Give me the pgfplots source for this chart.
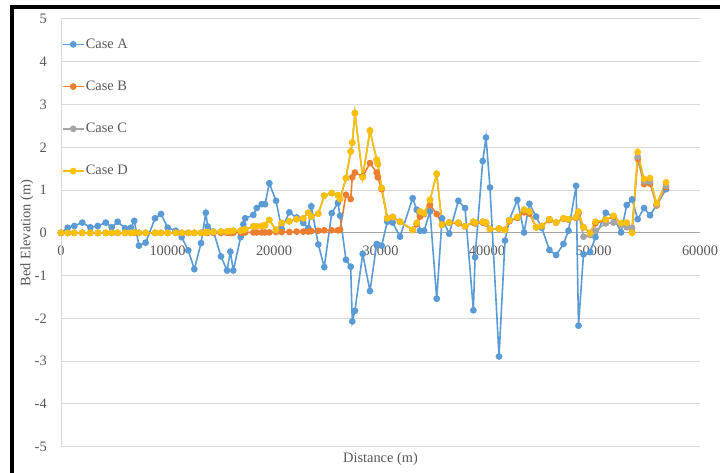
\documentclass[border=0pt]{standalone}
\usepackage{fontspec}
\setmainfont{Liberation Serif}
\usepackage{pgfplots}
\pgfplotsset{compat=1.18}
\usepackage{pgfplotstable}
\definecolor{cA}{HTML}{5B9BD5}
\definecolor{cB}{HTML}{ED7D31}
\definecolor{cC}{HTML}{A5A5A5}
\definecolor{cD}{HTML}{FFC000}
\definecolor{tickc}{HTML}{595959}
\definecolor{gridc}{HTML}{D9D9D9}
\definecolor{zeroc}{HTML}{A6A6A6}

\pgfplotstableread{
d A B C D
0 0.00 0 0 0
630 0.12 0 0 0
1250 0.16 0 0 0
2000 0.24 0 0 0
2750 0.13 0 0 0
3450 0.16 0 0 0
4200 0.24 0 0 0
4760 0.13 0 0 0
5320 0.26 0 0 0
6010 0.11 0 0 0
6570 0.12 0 0 0
6880 0.28 0 0.01 0.01
7320 -0.30 0 0 0
7950 -0.23 0 0 0
8830 0.34 0 0 0
9390 0.44 0 0 0
10020 0.12 0 0 0
10770 0.05 0 0 0
11330 -0.10 0 0 0
11950 -0.41 0 0 0
12520 -0.85 0 0 0
13150 -0.24 0 0 0
13600 0.47 0 0.01 0.01
13770 0.15 0 0.02 0.02
14320 0.03 0 0.02 0.02
15020 -0.55 0 0.03 0.03
15590 -0.88 0 0.03 0.03
15900 -0.44 0 0.04 0.04
16180 -0.88 0 0.05 0.05
16870 -0.10 0.01 0.05 0.05
17120 0.20 0.01 0.07 0.07
17300 0.34 0.01 0.08 0.08
18060 0.42 0.01 0.15 0.15
18380 0.58 0.01 0.15 0.15
18850 0.67 0.01 0.16 0.16
19160 0.67 0.01 0.18 0.18
19560 1.16 0.01 0.30 0.30
20190 0.75 0.02 0.07 0.07
20720 0.09 0.02 0.23 0.23
21440 0.48 0.02 0.27 0.27
22130 0.36 0.03 0.32 0.32
22750 0.23 0.03 0.34 0.34
23220 0.11 0.03 0.47 0.47
23500 0.62 0.04 0.38 0.38
24160 -0.27 0.05 0.45 0.45
24720 -0.80 0.06 0.87 0.87
25420 0.46 0.06 0.93 0.93
26000 0.70 0.06 0.88 0.88
26200 0.40 0.07 0.79 0.79
26760 -0.63 0.89 1.28 1.28
27200 -0.79 0.79 1.90 1.90
27350 -2.07 1.30 2.11 2.11
27600 -1.82 1.41 2.80 2.80
28330 -0.49 1.32 1.30 1.30
29010 -1.36 1.63 2.39 2.39
29640 -0.26 1.41 1.71 1.71
29750 -0.28 1.30 1.61 1.61
30110 -0.30 1.02 1.05 1.05
30640 0.26 0.34 0.34 0.34
31140 0.24 0.37 0.37 0.37
31830 -0.09 0.26 0.26 0.26
33020 0.81 0.07 0.07 0.07
33400 0.54 0.20 0.23 0.23
33710 0.05 0.38 0.50 0.50
34090 0.05 0.44 0.46 0.46
34650 0.50 0.65 0.77 0.77
35280 -1.54 0.44 1.38 1.38
35780 0.34 0.19 0.19 0.19
36450 -0.02 0.24 0.24 0.24
37310 0.75 0.22 0.24 0.24
37940 0.58 0.15 0.15 0.15
38720 -1.81 0.24 0.26 0.26
38880 -0.57 0.22 0.24 0.24
39600 1.68 0.24 0.26 0.26
39910 2.23 0.22 0.24 0.24
40280 1.06 0.09 0.09 0.09
41130 -2.89 0.10 0.10 0.10
41690 -0.18 0.07 0.07 0.07
42100 0.30 0.27 0.29 0.29
42850 0.77 0.35 0.37 0.37
43480 0.01 0.48 0.54 0.54
43980 0.68 0.45 0.50 0.50
44610 0.38 0.13 0.13 0.13
45140 0.12 0.16 0.16 0.16
45860 -0.40 0.30 0.32 0.32
46490 -0.52 0.24 0.24 0.24
47180 -0.26 0.33 0.34 0.34
47650 0.05 0.31 0.32 0.32
48370 1.10 0.35 0.37 0.37
48590 -2.17 0.45 0.47 0.50
49060 -0.50 0.13 -0.09 0.13
49680 -0.45 0.00 -0.05 -0.01
50180 -0.10 0.22 0.05 0.26
51150 0.47 0.30 0.22 0.31
51870 0.38 0.38 0.24 0.40
52590 0.01 0.22 0.18 0.23
53120 0.65 0.22 0.13 0.24
53620 0.78 0.02 0.12 0.00
54150 0.32 1.73 1.78 1.89
54750 0.58 1.14 1.20 1.26
55310 0.41 1.15 1.20 1.28
55930 0.65 0.64 0.66 0.69
56810 1.02 1.07 1.10 1.18
}\bed

\begin{document}
\fontsize{10.8pt}{13pt}\selectfont
\begin{tikzpicture}
\useasboundingbox (0,0) rectangle (540pt,354.75pt);
\fill[white] (0,0) rectangle (540pt,354.75pt);
\begin{axis}[
  at={(45.75pt,19.7pt)}, anchor=south west,
  scale only axis, width=479.25pt, height=320.8pt,
  xmin=0, xmax=60000, ymin=-5, ymax=5,
  scaled x ticks=false, scaled y ticks=false,
  axis lines*=left, axis line style={draw=none},
  xtick={0,10000,20000,30000,40000,50000,60000},
  xticklabels={0,10000,20000,30000,40000,50000,60000},
  ytick={-5,-4,-3,-2,-1,0,1,2,3,4,5},
  yticklabels={-5,-4,-3,-2,-1,0,1,2,3,4,5},
  major tick length=0pt,
  ymajorgrids, grid style={draw=gridc, line width=0.75pt},
  extra y ticks={0}, extra y tick labels={},
  extra y tick style={grid style={draw=zeroc, line width=0.75pt}},
  extra x ticks={0}, extra x tick labels={},
  extra x tick style={xmajorgrids=true, grid style={draw=gridc, line width=0.75pt}},
  yticklabel style={text=tickc, anchor=east, inner sep=0pt, xshift=-10.5pt},
  xticklabel style={text=tickc, anchor=north, inner sep=0pt, yshift=151.1pt},
  xlabel={Distance (m)}, ylabel={Bed Elevation (m)},
  xlabel style={at={(axis description cs:0.5,0)}, anchor=center, yshift=-9.2pt, text=tickc},
  ylabel style={at={(axis description cs:-0.0532,0.5)}, anchor=center, text=tickc},
  legend style={at={(axis description cs:0,1)}, anchor=north west, xshift=0.5pt, yshift=-13.45pt,
    draw=none, fill=none, inner sep=0pt, row sep=20.9pt, text=tickc,
    nodes={inner sep=1pt, anchor=west}},
  legend cell align=left,
  legend image code/.code={\draw[mark repeat=2,mark phase=2] plot coordinates {(0pt,0pt) (7.875pt,0pt) (15.75pt,0pt)};},
  every axis plot/.append style={line width=1.2pt, mark=*, mark size=1.9pt, mark options={solid}},
]
\addplot[color=cA] table[x=d, y=A] {\bed};
\addlegendentry{Case A}
\addplot[color=cB] table[x=d, y=B] {\bed};
\addlegendentry{Case B}
\addplot[color=cC] table[x=d, y=C] {\bed};
\addlegendentry{Case C}
\addplot[color=cD] table[x=d, y=D] {\bed};
\addlegendentry{Case D}
\end{axis}
\draw[black, line width=3pt] (9pt,0) -- (9pt,349.5pt) -- (540pt,349.5pt);
\end{tikzpicture}
\end{document}
